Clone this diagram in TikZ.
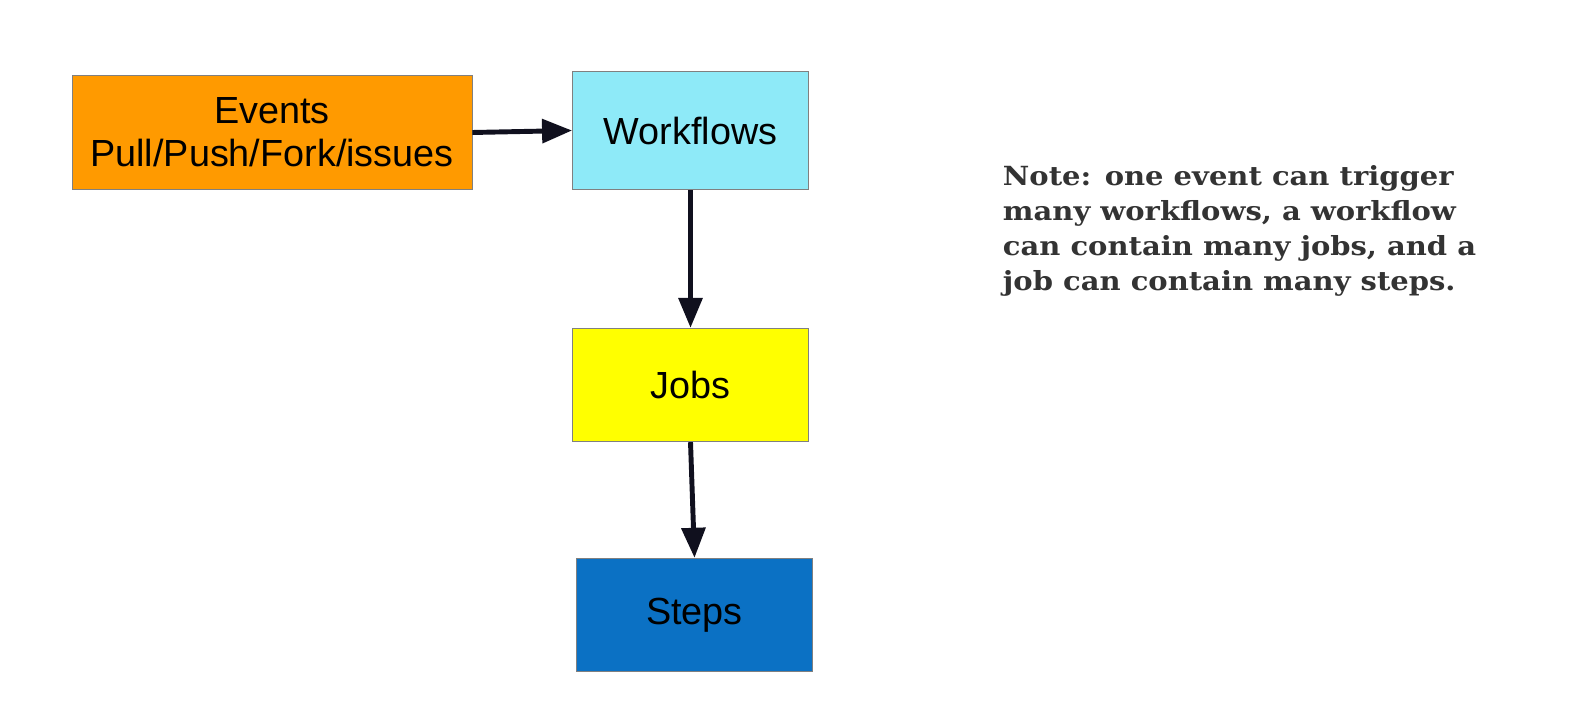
\documentclass[tikz,border=0pt]{standalone}
\usepackage{fontspec}
\setmainfont{Liberation Sans}
\newfontfamily\notefont[FakeStretch=1.1]{DejaVu Serif}
\usepackage{tikz}
\usetikzlibrary{positioning,arrows.meta,calc}
\definecolor{evorange}{HTML}{FF9A00}
\definecolor{wfcyan}{HTML}{8EEAF8}
\definecolor{jbyellow}{HTML}{FFFF00}
\definecolor{stblue}{HTML}{0B71C4}
\definecolor{arrowink}{HTML}{10101E}
\definecolor{noteink}{HTML}{333333}

\begin{document}
\begin{tikzpicture}[
    line width=0.5pt,
    %
    stage/.style={draw=black!50, rectangle, minimum width=4.72cm,
                  minimum height=2.27cm, font=\fontsize{21.5}{24.5}\selectfont,
                  align=center},
    %
    flow/.style={draw=arrowink, line width=2.8pt,
                 -{Triangle[length=0.6cm,width=0.47cm]}}
    ]

    \useasboundingbox (0,0) rectangle (31.5,-14.5);

    \node[stage,fill=evorange,minimum width=8cm,minimum height=2.29cm] (events) at (5.44,-2.65)
        {Events\\Pull/Push/Fork/issues};
    \node[stage,fill=wfcyan,minimum height=2.37cm] (workflows) at (13.81,-2.61) {Workflows};
    \node[stage,fill=jbyellow] (jobs)  at (13.81,-7.70) {Jobs};
    \node[stage,fill=stblue]   (steps) at (13.89,-12.30) {Steps};
    %
    \draw[flow] (events.east) -- (workflows.west);
    \draw[flow] (workflows.south) -- (jobs.north);
    \draw[flow] (jobs.south) -- (steps.north);
    %
    \node[anchor=north west, inner sep=0pt, align=left, text=noteink,
          font=\notefont\bfseries\fontsize{15}{19.9}\selectfont] (note) at (20.05,-3.3)
        {Note: one event can trigger\\many workflows, a workflow\\can contain many jobs, and a\\job can contain many steps.};
\end{tikzpicture}
\end{document}
